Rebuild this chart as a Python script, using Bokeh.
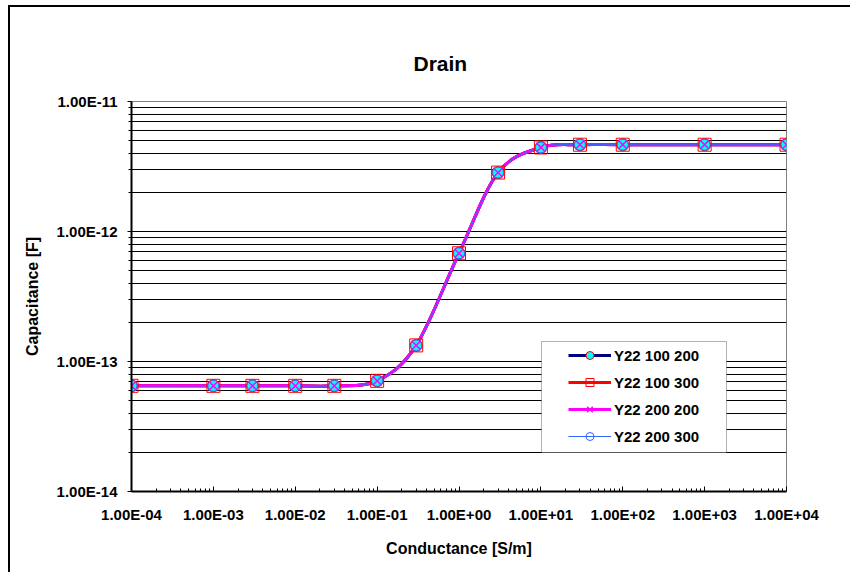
import numpy as np
from bokeh.plotting import figure
from bokeh.models import (FixedTicker, CustomJSTickFormatter, Legend, LegendItem,
                          BoxAnnotation, ColumnDataSource)
from bokeh.embed import file_html
from bokeh.resources import INLINE

# ---- data ----
conductance = [1e-4, 1e-3, 3e-3, 1e-2, 3e-2, 1e-1, 3e-1, 1.0, 3.0, 10.0, 30.0, 100.0, 1000.0, 10000.0]
y22_100_200 = [6.5e-14, 6.5e-14, 6.5e-14, 6.5e-14, 6.5e-14, 7.1e-14, 1.33e-13, 6.8e-13, 2.84e-12, 4.43e-12, 4.65e-12, 4.65e-12, 4.65e-12, 4.65e-12]
y22_100_300 = [6.5e-14, 6.5e-14, 6.5e-14, 6.5e-14, 6.5e-14, 7.1e-14, 1.33e-13, 6.8e-13, 2.84e-12, 4.43e-12, 4.65e-12, 4.65e-12, 4.65e-12, 4.65e-12]
y22_200_200 = [6.5e-14, 6.5e-14, 6.5e-14, 6.5e-14, 6.5e-14, 7.1e-14, 1.33e-13, 6.8e-13, 2.84e-12, 4.43e-12, 4.65e-12, 4.65e-12, 4.65e-12, 4.65e-12]
y22_200_300 = [6.5e-14, 6.5e-14, 6.5e-14, 6.5e-14, 6.5e-14, 7.1e-14, 1.33e-13, 6.8e-13, 2.84e-12, 4.43e-12, 4.65e-12, 4.65e-12, 4.65e-12, 4.65e-12]
series_names = ["Y22 100 200", "Y22 100 300", "Y22 200 200", "Y22 200 300"]

x_major = [10.0 ** e for e in range(-4, 5)]
y_major = [10.0 ** e for e in range(-14, -10)]
x_minor = [k * 10.0 ** e for e in range(-4, 4) for k in range(2, 10)]
y_minor = [k * 10.0 ** e for e in range(-14, -11) for k in range(2, 10)]

FONT = "Liberation Sans"


def smooth_source(xs, ys):
    """Bezier segments (Excel-like smoothed line) computed in log space."""
    lx = np.log10(np.asarray(xs, dtype=float))
    ly = np.log10(np.asarray(ys, dtype=float))
    n = len(lx)
    d = dict(x0=[], y0=[], x1=[], y1=[], cx0=[], cy0=[], cx1=[], cy1=[])
    for i in range(n - 1):
        a = i - 1 if i > 0 else i
        b = i + 2 if i + 2 < n else i + 1
        c0x = lx[i] + (lx[i + 1] - lx[a]) / 6.0
        c0y = ly[i] + (ly[i + 1] - ly[a]) / 6.0
        c1x = lx[i + 1] - (lx[b] - lx[i]) / 6.0
        c1y = ly[i + 1] - (ly[b] - ly[i]) / 6.0
        d["x0"].append(10 ** lx[i]); d["y0"].append(10 ** ly[i])
        d["x1"].append(10 ** lx[i + 1]); d["y1"].append(10 ** ly[i + 1])
        d["cx0"].append(10 ** c0x); d["cy0"].append(10 ** c0y)
        d["cx1"].append(10 ** c1x); d["cy1"].append(10 ** c1y)
    return ColumnDataSource(d)


p = figure(width=842, height=567, x_axis_type="log", y_axis_type="log",
           x_range=(1e-4, 1e4), y_range=(1e-14, 1e-11),
           output_backend="svg", toolbar_location=None,
           min_border_left=121, min_border_right=66, min_border_top=94, min_border_bottom=83,
           styles={"margin-left": "8px", "margin-top": "5px",
                   "border-left": "2px solid black", "border-top": "2px solid black"})
p.background_fill_color = "white"
p.border_fill_color = "white"
p.outline_line_color = "#808080"
p.outline_line_width = 1

# title
p.title.text = "Drain"
p.title.text_font = FONT
p.title.text_font_size = "21px"
p.title.text_font_style = "bold"
p.title.text_color = "black"
p.title.align = "left"
p.title.offset = 282
p.title.standoff = 54

# axes
for ax in (p.xaxis[0], p.yaxis[0]):
    ax.axis_line_color = "black"
    ax.axis_line_width = 2
    ax.major_tick_line_color = "black"
    ax.minor_tick_line_color = "black"
    ax.major_label_text_font = FONT
    ax.major_label_text_font_size = "15px"
    ax.major_label_text_font_style = "bold"
    ax.major_label_text_color = "black"
    ax.axis_label_text_font = FONT
    ax.axis_label_text_font_size = "16px"
    ax.axis_label_text_font_style = "bold"
    ax.axis_label_text_color = "black"

fmt = CustomJSTickFormatter(code="""
    const e = Math.round(Math.log10(tick));
    const m = tick / Math.pow(10, e);
    const a = Math.abs(e);
    return m.toFixed(2) + "E" + (e < 0 ? "-" : "+") + (a < 10 ? "0" + a : "" + a);
""")

p.xaxis.ticker = FixedTicker(ticks=x_major, minor_ticks=x_minor)
p.yaxis.ticker = FixedTicker(ticks=y_major, minor_ticks=y_minor)
p.xaxis.formatter = fmt
p.yaxis.formatter = fmt
p.xaxis.axis_label = "Conductance [S/m]"
p.yaxis.axis_label = "Capacitance [F]"

p.xaxis.major_tick_in = 5
p.xaxis.major_tick_out = 0
p.xaxis.minor_tick_in = 3
p.xaxis.minor_tick_out = 0
p.xaxis.major_label_standoff = 14
p.xaxis.axis_label_standoff = 14

p.yaxis.major_tick_in = 0
p.yaxis.major_tick_out = 4
p.yaxis.minor_tick_in = 0
p.yaxis.minor_tick_out = 3
p.yaxis.major_label_standoff = 10
p.yaxis.axis_label_standoff = 13

# grid
p.xgrid.grid_line_color = None
p.ygrid.grid_line_color = "black"
p.ygrid.grid_line_width = 1
p.ygrid.minor_grid_line_color = "black"
p.ygrid.minor_grid_line_width = 1

# series
styles = [
    dict(line_color="#000080", line_width=3, marker="circle", size=12,
         m_fill="#00FFFF", m_line="#FF0000", m_lw=1),
    dict(line_color="#FF0000", line_width=3, marker="square", size=13,
         m_fill=None, m_line="#FF0000", m_lw=1),
    dict(line_color="#FF00FF", line_width=3, marker="x", size=13,
         m_fill=None, m_line="#FF00FF", m_lw=1.5),
    dict(line_color="#3366FF", line_width=1, marker="circle", size=11,
         m_fill=None, m_line="#3366FF", m_lw=1),
]
series_vals = [y22_100_200, y22_100_300, y22_200_200, y22_200_300]

items = []
line_rs = []
for vals, st in zip(series_vals, styles):
    lr = p.bezier(x0="x0", y0="y0", x1="x1", y1="y1", cx0="cx0", cy0="cy0",
                  cx1="cx1", cy1="cy1", source=smooth_source(conductance, vals),
                  line_color=st["line_color"], line_width=st["line_width"])
    line_rs.append(lr)
for vals, st, name, lr in zip(series_vals, styles, series_names, line_rs):
    mr = p.scatter(conductance, vals, marker=st["marker"], size=st["size"],
                   fill_color=st["m_fill"], line_color=st["m_line"], line_width=st["m_lw"])
    items.append(LegendItem(label=name, renderers=[lr, mr]))

# legend box
box = BoxAnnotation(left=410, right=595, bottom=39, top=150,
                    left_units="screen", right_units="screen",
                    bottom_units="screen", top_units="screen",
                    fill_color="white", fill_alpha=1.0,
                    line_color="black", line_width=1)
p.add_layout(box)

legend = Legend(items=items, location=(433, 41))
legend.background_fill_alpha = 0
legend.border_line_alpha = 0
legend.padding = 4
legend.margin = 0
legend.spacing = 7
legend.glyph_width = 43
legend.glyph_height = 20
legend.label_height = 20
legend.label_standoff = 3
legend.label_text_font = FONT
legend.label_text_font_size = "15px"
legend.label_text_font_style = "bold"
legend.label_text_color = "black"
p.add_layout(legend)

open("out.html", "w").write(file_html(p, INLINE))
